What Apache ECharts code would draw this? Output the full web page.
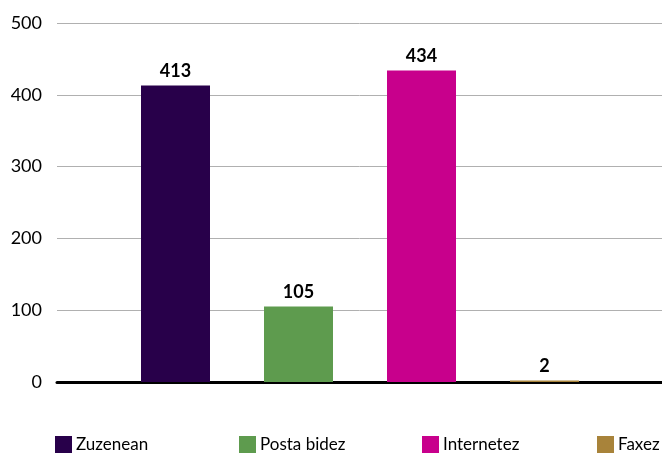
<!DOCTYPE html>
<html>
<head>
<meta charset="utf-8">
<script src="https://cdn.jsdelivr.net/npm/echarts@6/dist/echarts.min.js"></script>
<style>
  html, body { margin: 0; padding: 0; background: #fff; }
  #chart { width: 662px; height: 453px; }
</style>
</head>
<body>
<div id="chart"></div>
<script>
var categories = ['Zuzenean', 'Posta bidez', 'Internetez', 'Faxez'];
var values = [413, 105, 434, 2];
var colors = ['#28004a', '#5e9b4e', '#c8008c', '#a8833a'];
var yTicks = [0, 100, 200, 300, 400, 500];

var legendLeft = [55, 239, 422, 597]; // legend item x positions
var font = 'Lato, "DejaVu Sans", sans-serif';

var myChart = echarts.init(document.getElementById('chart'));

// one series per category so each gets its own legend entry
var series = categories.map(function (name, i) {
    return {
        name: name,
        type: 'bar',
        xAxisIndex: 1,
        yAxisIndex: 1,
        barWidth: 69,
        barGap: '-100%',
        itemStyle: { color: colors[i] },
        label: {
            show: true,
            position: 'top',
            distance: 5,
            color: '#000',
            fontFamily: font,
            fontWeight: 'bold',
            fontSize: 18
        },
        data: categories.map(function (c, j) { return j === i ? values[i] : '-'; })
    };
});

var legends = categories.map(function (name, i) {
    return {
        data: [name],
        left: legendLeft[i],
        top: 436,
        icon: 'rect',
        itemWidth: 17,
        itemHeight: 17,
        itemGap: 0,
        padding: 0,
        textStyle: { color: '#000', fontFamily: font, fontSize: 17, padding: [0, 0, 0, -1] }
    };
});

myChart.setOption({
    animation: false,
    legend: legends,
    grid: [
        { left: 57, right: 0, top: 23, bottom: 71 },   // gridlines + axis
        { left: 114, right: 56, top: 23, bottom: 71 }  // bars
    ],
    xAxis: [{
        type: 'category',
        gridIndex: 0,
        data: categories,
        axisLabel: { show: false },
        axisTick: { show: false },
        axisLine: { lineStyle: { color: '#000', width: 3 } }
    }, {
        type: 'category',
        gridIndex: 1,
        data: categories,
        show: false
    }],
    yAxis: [{
        type: 'value',
        gridIndex: 0,
        min: yTicks[0],
        max: yTicks[yTicks.length - 1],
        interval: 100,
        axisLine: { show: false },
        axisTick: { show: false },
        axisLabel: { color: '#000', fontFamily: font, fontSize: 18, margin: 15 },
        splitLine: { lineStyle: { color: '#b0b0b0', width: 1 } }
    }, {
        type: 'value',
        gridIndex: 1,
        min: yTicks[0],
        max: yTicks[yTicks.length - 1],
        show: false
    }],
    series: series
});
</script>
</body>
</html>
